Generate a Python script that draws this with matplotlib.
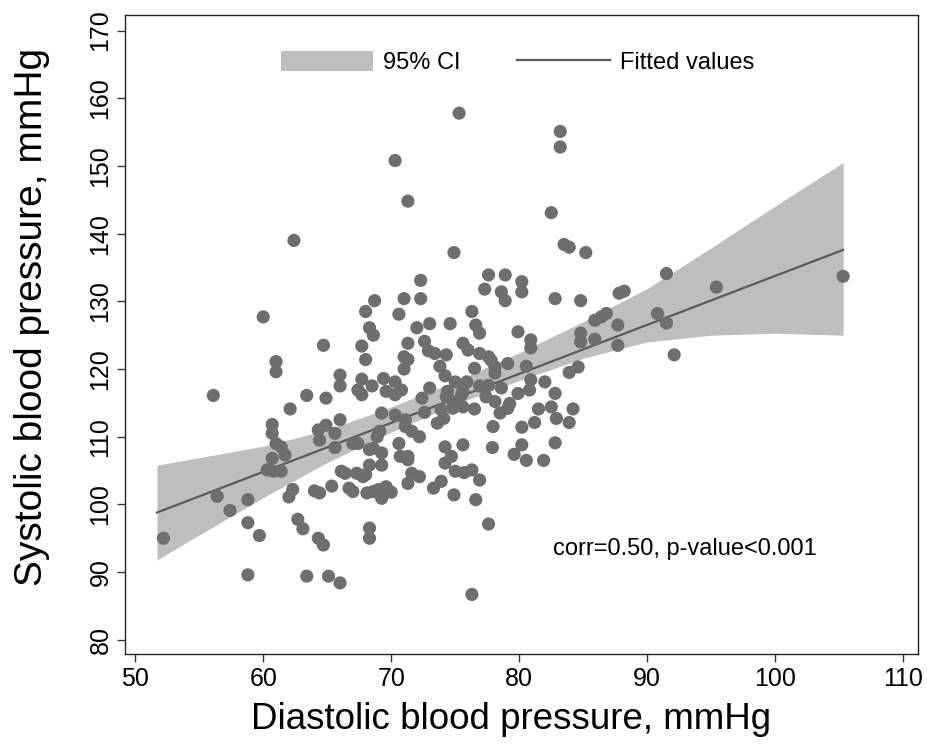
import numpy as np
import matplotlib
matplotlib.use("Agg")
import matplotlib.pyplot as plt

plt.rcParams['font.family'] = ['Liberation Sans', 'DejaVu Sans']

# diastolic (x) / systolic (y) readings, mmHg
dbp = [64.7, 61.0, 61.0, 56.1, 63.4, 64.9, 62.1, 60.7, 60.7, 61.0,
       61.4, 61.7, 60.7, 60.3, 60.8, 61.4, 64.3, 64.4, 64.9, 56.4,
       58.8, 57.4, 58.8, 52.2, 59.7, 62.3, 62.0, 64.0, 64.4, 62.7,
       63.1, 64.3, 64.7, 58.8, 63.4, 65.1, 66.0, 60.0, 62.4,
       75.3, 70.3, 71.3, 74.9, 72.3, 77.6, 78.9, 77.3, 78.6, 78.9,
       68.7, 71.0, 72.3, 68.0, 70.6, 76.3, 68.3, 68.6, 72.0, 73.0,
       74.6, 76.6, 76.9, 67.7, 71.3, 72.6, 68.0, 71.0, 71.3, 71.0,
       72.9, 73.4, 73.8, 66.0, 66.0, 67.7, 68.5, 69.4, 70.3, 67.4,
       70.8, 73.0, 67.7, 69.6, 70.3, 74.3, 74.2, 75.6, 76.0, 76.9,
       77.8, 78.1, 76.5, 72.4, 74.4, 75.0, 75.9, 75.6, 77.6, 77.4,
       78.1, 69.25, 70.3, 71.1, 72.6, 73.9, 74.8, 75.6, 76.5, 65.6,
       66.0, 69.1, 68.9, 71.1, 71.6, 72.2, 73.6, 77.95, 65.6, 67.0,
       67.4, 68.6, 68.3, 69.25, 69.25, 70.6, 70.7, 71.3, 71.3, 74.2,
       75.6, 77.9, 74.2, 74.7, 68.3, 68.0, 66.1, 66.4, 67.3, 67.8,
       71.6, 72.2, 71.3, 75.0, 75.7, 76.3, 76.9, 73.9, 73.3, 74.9,
       76.6, 65.35, 66.7, 67.0, 68.1, 68.6, 69.25, 69.6, 70.0, 69.0,
       77.6, 68.3, 68.3, 76.3,
       80.2, 80.2, 82.8, 84.8, 87.8, 88.2, 79.9, 80.9, 80.9, 85.9,
       86.4, 86.8, 84.8, 84.8, 85.9, 87.7, 87.7, 77.6, 79.1, 80.55,
       78.1, 83.9, 84.6, 76.9, 78.6, 80.9, 82.0, 79.9, 82.8, 74.3,
       74.8, 75.5, 74.1, 78.5, 79.1, 79.25, 80.8, 81.5, 82.5, 82.9,
       84.2, 83.9, 81.2, 80.2, 80.2, 79.6, 80.55, 81.9, 82.8, 83.2,
       83.2, 82.5, 83.5, 83.9, 85.2, 91.5, 90.8, 91.5, 92.1, 95.4,
       105.3]
sbp = [123.5, 121.1, 119.6, 116.1, 116.1, 115.7, 114.1, 111.8, 110.5, 109.0,
       108.5, 107.3, 106.8, 105.1, 104.9, 104.9, 111.0, 109.5, 111.7, 101.2,
       100.7, 99.1, 97.3, 95.0, 95.4, 102.2, 101.1, 102.0, 101.7, 97.8,
       96.4, 95.0, 94.0, 89.6, 89.4, 89.4, 88.4, 127.7, 139.0,
       157.8, 150.8, 144.8, 137.2, 133.1, 133.9, 133.9, 131.8, 131.4, 130.1,
       130.1, 130.4, 130.4, 128.5, 128.1, 128.5, 126.1, 125.0, 126.1, 126.7,
       126.7, 126.5, 125.3, 123.4, 123.8, 124.1, 121.4, 121.8, 121.4, 120.0,
       122.7, 122.3, 120.4, 119.1, 117.5, 118.5, 117.5, 118.6, 118.1, 116.9,
       116.9, 117.2, 116.2, 116.7, 116.2, 122.1, 119.0, 123.8, 122.8, 122.3,
       121.3, 120.3, 120.1, 115.7, 116.7, 118.1, 118.1, 116.7, 117.6, 115.9,
       115.2, 113.5, 113.2, 112.5, 113.6, 114.0, 114.2, 114.4, 114.1, 110.5,
       112.5, 110.8, 110.0, 111.5, 110.8, 110.0, 112.0, 111.5, 108.4, 109.0,
       109.0, 108.3, 108.1, 107.6, 105.8, 109.0, 107.1, 107.1, 106.6, 108.5,
       108.8, 108.4, 106.1, 107.1, 105.8, 104.4, 104.9, 104.6, 104.6, 104.1,
       104.6, 104.1, 103.1, 104.9, 104.7, 105.1, 103.6, 103.4, 102.4, 101.4,
       100.7, 102.7, 102.4, 101.9, 101.7, 101.9, 100.9, 102.6, 101.8, 102.2,
       97.1, 96.5, 95.0, 86.7,
       132.9, 131.4, 130.4, 130.1, 131.2, 131.5, 125.5, 124.3, 123.1, 127.2,
       127.7, 128.2, 125.3, 124.0, 124.4, 126.5, 123.5, 121.8, 120.8, 120.4,
       119.4, 119.5, 120.3, 117.5, 117.2, 118.4, 118.1, 116.4, 116.4, 115.9,
       115.2, 116.2, 112.7, 113.5, 114.2, 114.9, 116.9, 114.1, 114.4, 112.7,
       114.1, 112.1, 112.1, 111.4, 108.8, 107.4, 106.5, 106.5, 109.1, 155.1,
       152.8, 143.1, 138.4, 138.0, 137.2, 134.1, 128.2, 126.8, 122.1, 132.1,
       133.7]

# fitted line and 95% CI edges
fit_x = [51.7, 105.3]
fit_y = [98.8, 137.6]
ci_x = [51.7, 55.0, 60.0, 65.0, 70.0, 75.0, 80.0, 85.0, 90.0, 95.0, 100.0, 105.3]
ci_lo = [91.8, 95.5, 101.0, 106.2, 110.7, 114.8, 118.3, 121.6, 124.0, 125.0, 125.3, 125.0]
ci_hi = [105.8, 106.9, 108.6, 111.0, 114.4, 118.2, 122.4, 127.0, 131.9, 137.9, 144.1, 150.5]

fig = plt.figure(figsize=(9.28, 7.54), dpi=100)
ax = fig.add_axes([125 / 928, 1 - 654 / 754, 793 / 928, 639 / 754])

ax.fill_between(ci_x, ci_lo, ci_hi, color='#bebebe', lw=0, label='95% CI', zorder=1)
ax.plot(fit_x, fit_y, color='#5a5a5a', lw=1.6, label='Fitted values', zorder=2)
ax.scatter(dbp, sbp, s=90, color='#6e6e6e', edgecolors='none', zorder=3)

ax.set_xlim(49.2, 111.15)
ax.set_ylim(77.9, 172.3)
ax.set_xticks(np.arange(50, 111, 10))
ax.set_yticks(np.arange(80, 171, 10))
ax.tick_params(labelsize=18, length=6, width=1, pad=3, color='#333333')
for lab in ax.get_yticklabels():
    lab.set_rotation(90)
    lab.set_va('center')
for sp in ax.spines.values():
    sp.set_linewidth(1.0)
    sp.set_color('#222222')

ax.set_xlabel('Diastolic blood pressure, mmHg', fontsize=26.5)
ax.xaxis.set_label_coords(0.487, -0.075)
ax.set_ylabel('Systolic blood pressure, mmHg', fontsize=28)
ax.yaxis.set_label_coords(-0.094, 0.527)

ax.text(82.6, 93.4, 'corr=0.50, p-value<0.001', fontsize=17, ha='left', va='center')

ax.legend(loc='upper center', bbox_to_anchor=(0.495, 0.977), ncol=2, frameon=False,
          fontsize=17, handlelength=3.9, handleheight=0.95, handletextpad=0.45,
          columnspacing=2.4)

fig.savefig('out.png', dpi=100)
